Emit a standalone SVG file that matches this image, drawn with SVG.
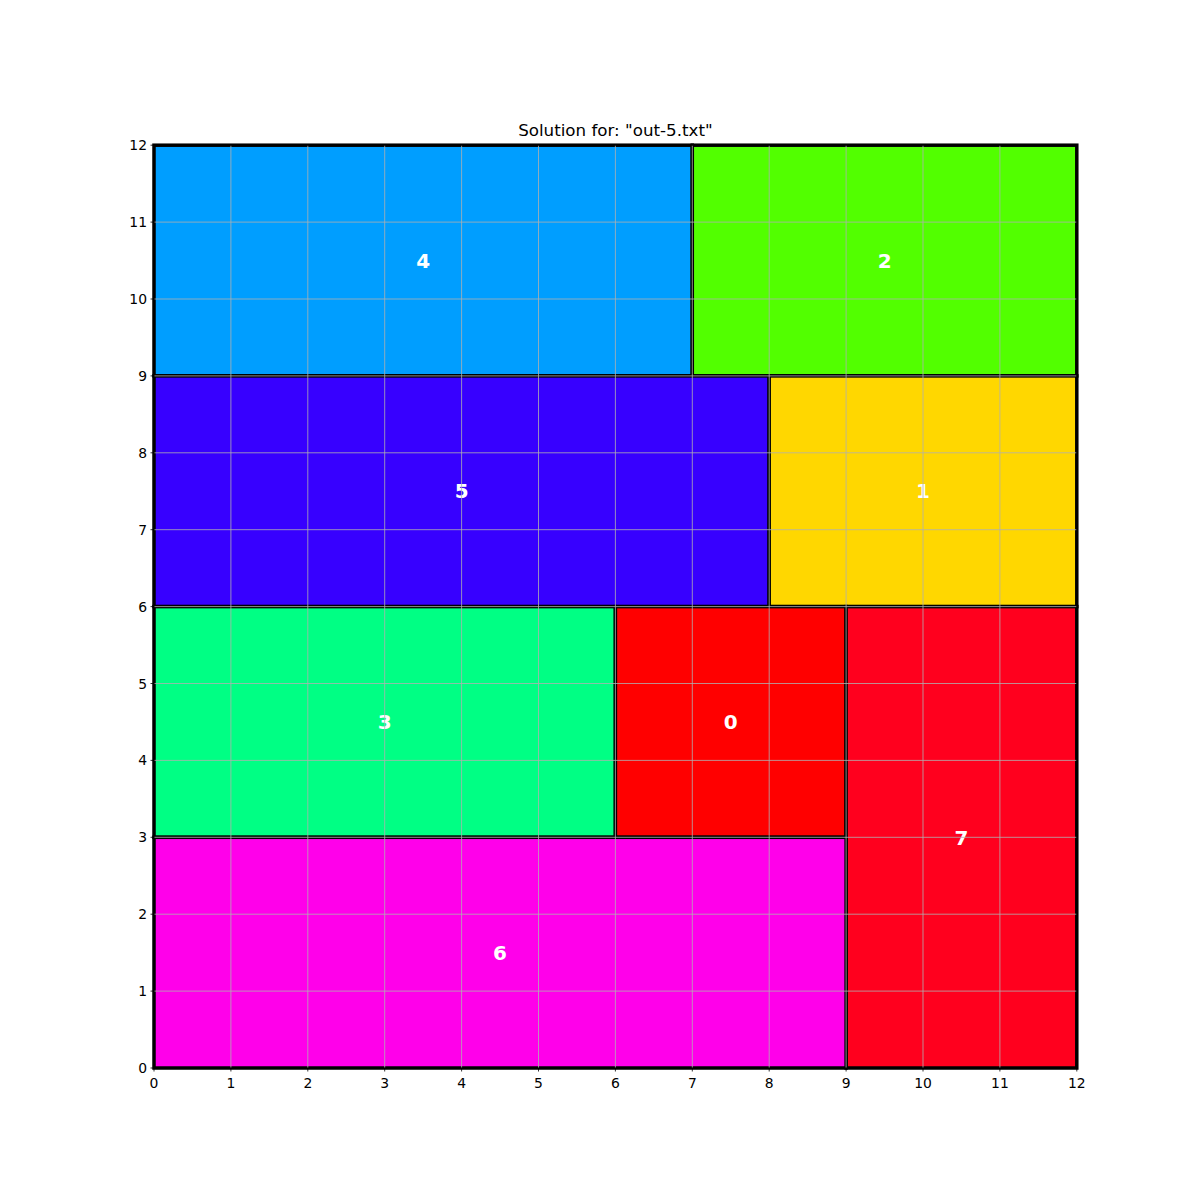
<svg xmlns="http://www.w3.org/2000/svg" width="1200" height="1200" viewBox="0 0 1200 1200">
<style>
.r{stroke:#000;stroke-width:3.5}
.g{stroke:#b0b0b0;stroke-width:0.8}
.lbl{font-family:"DejaVu Sans",sans-serif;font-weight:bold;font-size:20px;fill:#fff;text-anchor:middle}
.tk{font-family:"DejaVu Sans",sans-serif;font-size:13.9px;fill:#000}
.tx{text-anchor:middle}
.ty{text-anchor:end}
</style>
<rect width="1200" height="1200" fill="#fff"/>
<g id="rects">
<g id="n4"><rect class="r" x="154" y="145.2" width="538.3" height="230.7" fill="#009eff"/></g>
<g id="n2"><rect class="r" x="692.3" y="145.2" width="384.5" height="230.7" fill="#52ff00"/></g>
<g id="n5"><rect class="r" x="154" y="375.9" width="615.2" height="230.7" fill="#3700ff"/></g>
<g id="n1"><rect class="r" x="769.2" y="375.9" width="307.6" height="230.7" fill="#ffd700"/></g>
<g id="n3"><rect class="r" x="154" y="606.6" width="461.4" height="230.7" fill="#00ff84"/></g>
<g id="n0"><rect class="r" x="615.4" y="606.6" width="230.7" height="230.7" fill="#ff0000"/></g>
<g id="n7"><rect class="r" x="846.1" y="606.6" width="230.7" height="461.4" fill="#ff001e"/></g>
<g id="n6"><rect class="r" x="154" y="837.3" width="692.1" height="230.7" fill="#ff00ea"/></g>
</g>
<g id="labels">
<text class="lbl" x="423.2" y="267.6">4</text>
<text class="lbl" x="884.6" y="267.6">2</text>
<text class="lbl" x="461.6" y="498.3">5</text>
<text class="lbl" x="923" y="498.3">1</text>
<text class="lbl" x="384.7" y="729">3</text>
<text class="lbl" x="730.8" y="729">0</text>
<text class="lbl" x="961.5" y="844.6">7</text>
<text class="lbl" x="500" y="959.7">6</text>
</g>
<g id="grid">
<path class="g" d="M230.9,145.2V1068M307.8,145.2V1068M384.7,145.2V1068M461.6,145.2V1068M538.5,145.2V1068M615.4,145.2V1068M692.3,145.2V1068M769.2,145.2V1068M846.1,145.2V1068M923,145.2V1068M999.9,145.2V1068"/>
<path class="g" d="M154,991.1H1076.8M154,914.2H1076.8M154,837.3H1076.8M154,760.4H1076.8M154,683.5H1076.8M154,606.6H1076.8M154,529.7H1076.8M154,452.8H1076.8M154,375.9H1076.8M154,299H1076.8M154,222.1H1076.8"/>
</g>
<rect x="154" y="145.2" width="922.8" height="922.8" fill="none" stroke="#000" stroke-width="1"/>
<g id="ticks" stroke="#000" stroke-width="0.8">
<path d="M154,1068v3.5M230.9,1068v3.5M307.8,1068v3.5M384.7,1068v3.5M461.6,1068v3.5M538.5,1068v3.5M615.4,1068v3.5M692.3,1068v3.5M769.2,1068v3.5M846.1,1068v3.5M923,1068v3.5M999.9,1068v3.5M1076.8,1068v3.5"/>
<path d="M154,1068h-3.5M154,991.1h-3.5M154,914.2h-3.5M154,837.3h-3.5M154,760.4h-3.5M154,683.5h-3.5M154,606.6h-3.5M154,529.7h-3.5M154,452.8h-3.5M154,375.9h-3.5M154,299h-3.5M154,222.1h-3.5M154,145.2h-3.5"/>
</g>
<g id="xlabels">
<text class="tk tx" x="154" y="1088">0</text>
<text class="tk tx" x="230.9" y="1088">1</text>
<text class="tk tx" x="307.8" y="1088">2</text>
<text class="tk tx" x="384.7" y="1088">3</text>
<text class="tk tx" x="461.6" y="1088">4</text>
<text class="tk tx" x="538.5" y="1088">5</text>
<text class="tk tx" x="615.4" y="1088">6</text>
<text class="tk tx" x="692.3" y="1088">7</text>
<text class="tk tx" x="769.2" y="1088">8</text>
<text class="tk tx" x="846.1" y="1088">9</text>
<text class="tk tx" x="923" y="1088">10</text>
<text class="tk tx" x="999.9" y="1088">11</text>
<text class="tk tx" x="1076.8" y="1088">12</text>
</g>
<g id="ylabels">
<text class="tk ty" x="147" y="1073">0</text>
<text class="tk ty" x="147" y="996.1">1</text>
<text class="tk ty" x="147" y="919.2">2</text>
<text class="tk ty" x="147" y="842.3">3</text>
<text class="tk ty" x="147" y="765.4">4</text>
<text class="tk ty" x="147" y="688.5">5</text>
<text class="tk ty" x="147" y="611.6">6</text>
<text class="tk ty" x="147" y="534.7">7</text>
<text class="tk ty" x="147" y="457.8">8</text>
<text class="tk ty" x="147" y="380.9">9</text>
<text class="tk ty" x="147" y="304">10</text>
<text class="tk ty" x="147" y="227.1">11</text>
<text class="tk ty" x="147" y="150.2">12</text>
</g>
<text x="615.4" y="136" font-family="DejaVu Sans, sans-serif" font-size="16.7" text-anchor="middle">Solution for: "out-5.txt"</text>
</svg>
